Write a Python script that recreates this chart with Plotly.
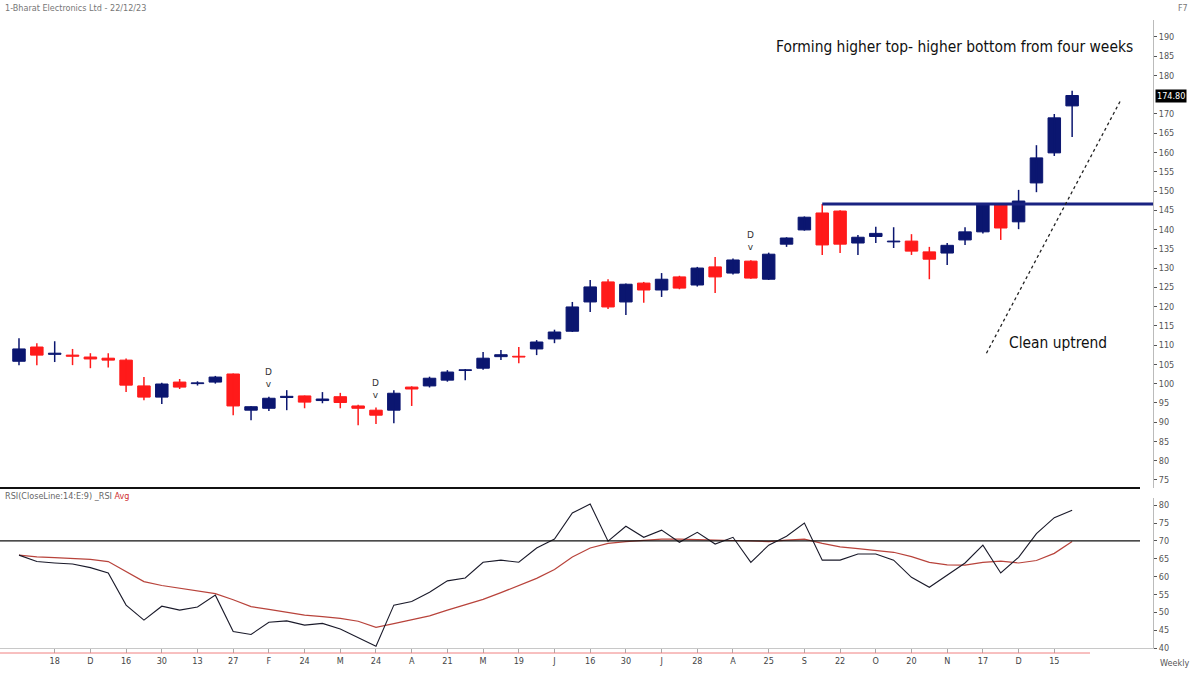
import plotly.graph_objects as go

# ---------------- data ----------------
open_ = [105.8, 109.5, 107.6, 107.4, 106.9, 106.6, 106.1, 99.4, 96.5, 100.4,
         100.0, 100.4, 102.5, 93.1, 93.6, 96.4, 96.8, 95.6, 96.6, 94.2,
         93.1, 93.1, 99.1, 99.4, 100.9, 103.4, 104.0, 107.0, 107.1, 109.0,
         111.6, 113.6, 121.2, 126.4, 121.2, 126.1, 124.3, 127.7, 125.6, 130.3,
         128.7, 131.8, 127.1, 136.2, 139.9, 144.3, 144.8, 136.5, 138.2, 136.8,
         137.0, 134.2, 133.9, 137.3, 139.4, 146.6, 142.0, 152.1, 159.9, 172.1]
high = [111.8, 110.5, 111.0, 109.0, 107.9, 107.9, 106.5, 101.7, 100.2, 101.2,
        100.6, 102.0, 102.6, 94.1, 96.6, 98.3, 96.9, 97.8, 97.6, 94.5,
        93.8, 98.3, 99.3, 101.8, 103.5, 103.8, 108.2, 108.7, 109.5, 111.3,
        114.0, 121.2, 126.9, 127.1, 126.0, 126.4, 128.7, 128.0, 130.3, 132.9,
        132.5, 132.0, 134.0, 138.0, 143.4, 146.6, 145.0, 138.6, 140.7, 140.6,
        138.8, 135.5, 136.5, 140.6, 146.8, 146.8, 150.3, 161.9, 170.0, 176.0]
low = [104.8, 104.8, 105.6, 104.8, 104.0, 104.2, 97.8, 95.7, 94.7, 98.6,
       99.5, 100.0, 91.8, 90.5, 92.9, 93.1, 93.6, 94.9, 93.6, 89.2,
       89.5, 89.7, 94.2, 99.0, 100.5, 100.9, 103.6, 106.1, 105.3, 107.4,
       110.5, 113.4, 118.6, 119.4, 117.8, 121.0, 122.5, 124.5, 125.2, 123.5,
       128.3, 127.2, 126.9, 135.5, 139.7, 133.4, 133.9, 133.4, 136.5, 135.2,
       133.4, 127.1, 130.8, 136.0, 139.0, 137.3, 140.1, 149.7, 159.1, 164.0]
close = [109.0, 107.4, 107.9, 107.1, 106.4, 106.1, 99.6, 96.5, 99.9, 99.1,
         100.2, 101.7, 94.2, 94.0, 96.2, 96.7, 95.2, 96.0, 95.1, 93.6,
         91.8, 97.5, 98.6, 101.4, 103.0, 103.6, 106.6, 107.5, 106.9, 110.8,
         113.4, 119.9, 125.1, 119.9, 125.8, 124.3, 127.1, 124.8, 130.0, 127.7,
         132.1, 127.4, 133.6, 137.8, 143.2, 136.0, 136.2, 138.0, 139.0, 137.0,
         134.4, 132.3, 135.9, 139.4, 146.6, 140.4, 147.4, 158.6, 169.0, 174.8]

rsi = [66.0, 64.2, 63.8, 63.5, 62.5, 61.0, 52.0, 47.8, 51.7, 50.6,
       51.5, 54.8, 44.6, 43.8, 47.2, 47.6, 46.4, 46.9, 45.3, 43.0,
       40.5, 52.0, 53.0, 55.6, 58.8, 59.6, 64.0, 64.6, 64.0, 68.0,
       70.5, 77.8, 80.3, 69.9, 74.1, 71.0, 73.0, 69.6, 72.4, 69.1,
       71.0, 64.0, 68.8, 71.3, 75.0, 64.6, 64.6, 66.3, 66.3, 64.6,
       59.8, 57.0, 60.4, 63.8, 68.8, 61.0, 65.4, 72.0, 76.5, 78.6]
rsi_avg = [66.0, 65.5, 65.3, 65.1, 64.8, 64.2, 61.5, 58.6, 57.5, 56.8,
           56.0, 55.2, 53.5, 51.6, 50.8, 50.0, 49.2, 48.8, 48.3, 47.5,
           45.8, 46.8, 47.8, 49.0, 50.6, 52.0, 53.6, 55.5, 57.5, 59.5,
           62.0, 65.5, 68.0, 69.3, 69.8, 70.2, 70.5, 70.5, 70.3, 70.2,
           70.1, 70.0, 69.8, 70.2, 70.5, 69.3, 68.3, 67.8, 67.4, 66.8,
           65.6, 64.0, 63.3, 63.2, 64.0, 64.3, 63.8, 64.5, 66.5, 69.8]

tick_idx = list(range(2, 60, 2))
tick_labels = ["18", "D", "16", "30", "13", "27", "F", "24", "M", "24",
               "A", "21", "M", "19", "J", "16", "30", "J", "28", "A",
               "25", "S", "22", "O", "20", "N", "17", "D", "15"]

price_ticks = list(range(75, 191, 5))
rsi_ticks = list(range(40, 81, 5))

resistance_level = 146.6
resistance_start = 45
trend_x = [54.2, 61.7]
trend_y = [107.9, 173.4]
d_marks = [14, 20, 41]
rsi_level = 70

# ---------------- figure ----------------
BLUE = "#0b1670"
RED = "#ff1a1a"
n = len(close)
xs = list(range(n))

fig = go.Figure()

for up, col in ((True, BLUE), (False, RED)):
    idx = [i for i in xs if (close[i] >= open_[i]) == up]
    wx, wy = [], []
    for i in idx:
        wx += [i, i, None]
        wy += [low[i], high[i], None]
    fig.add_trace(go.Scatter(x=wx, y=wy, mode="lines", line=dict(color=col, width=1.5),
                             hoverinfo="skip", showlegend=False, xaxis="x", yaxis="y"))
    fig.add_trace(go.Bar(x=idx, y=[abs(close[i] - open_[i]) for i in idx],
                         base=[min(open_[i], close[i]) for i in idx],
                         width=0.7, marker=dict(color=col, line=dict(color=col, width=1)),
                         hoverinfo="skip", showlegend=False, xaxis="x", yaxis="y"))

# resistance line from candle high
fig.add_trace(go.Scatter(x=[resistance_start, 63.6], y=[resistance_level, resistance_level],
                         mode="lines", line=dict(color="#1a2382", width=3),
                         hoverinfo="skip", showlegend=False, xaxis="x", yaxis="y"))
# trend line
fig.add_trace(go.Scatter(x=trend_x, y=trend_y, mode="lines",
                         line=dict(color="#222", width=1.3, dash="dot"),
                         hoverinfo="skip", showlegend=False, xaxis="x", yaxis="y"))

# RSI
fig.add_trace(go.Scatter(x=xs, y=rsi_avg, mode="lines", line=dict(color="#b8433b", width=1.2),
                         hoverinfo="skip", showlegend=False, xaxis="x", yaxis="y2"))
fig.add_trace(go.Scatter(x=xs, y=rsi, mode="lines", line=dict(color="#1a1a2a", width=1.1),
                         hoverinfo="skip", showlegend=False, xaxis="x", yaxis="y2"))

H = 675
t_m, b_m = 20, 27
plot_h = H - t_m - b_m


def py(pix):
    return (H - b_m - pix) / plot_h


W = 1198
r_m = 45
plot_w = W - r_m


def px(pix):
    return pix / plot_w


# the last-price box hides the tick label next to it
shown_price_ticks = [v for v in price_ticks if abs(v - close[-1]) > 2.5]

shapes = [
    dict(type="line", xref="paper", yref="paper", x0=0, x1=px(1140), y0=py(488), y1=py(488),
         line=dict(color="#111", width=2)),
    dict(type="line", xref="paper", yref="y2", x0=0, x1=px(1140), y0=rsi_level, y1=rsi_level,
         line=dict(color="#111", width=1.2)),
    dict(type="line", xref="paper", yref="paper", x0=0, x1=px(1090), y0=py(653), y1=py(653),
         line=dict(color="#f08080", width=1)),
]

annotations = [
    dict(xref="paper", yref="paper", x=px(3), y=py(8), xanchor="left", yanchor="middle",
         text="1-Bharat Electronics Ltd - 22/12/23", showarrow=False,
         font=dict(family="DejaVu Sans Condensed, Liberation Sans Narrow", size=9, color="#777")),
    dict(xref="paper", yref="paper", x=px(1183), y=py(8), xanchor="center", yanchor="middle",
         text="F7", showarrow=False, font=dict(family="DejaVu Sans", size=8, color="#777")),
    dict(xref="paper", yref="paper", x=px(954), y=py(47), xanchor="center", yanchor="middle",
         text="Forming higher top- higher bottom from four weeks", showarrow=False,
         font=dict(family="Liberation Sans Narrow, DejaVu Sans Condensed", size=15.4, color="#111")),
    dict(xref="paper", yref="paper", x=px(1058), y=py(343), xanchor="center", yanchor="middle",
         text="Clean uptrend", showarrow=False,
         font=dict(family="Liberation Sans Narrow, DejaVu Sans Condensed", size=15.4, color="#111")),
    dict(xref="paper", yref="paper", x=px(3), y=py(496), xanchor="left", yanchor="middle",
         text="RSI(CloseLine:14:E:9) _RSI <span style='color:#d03030'>Avg</span>", showarrow=False,
         font=dict(family="DejaVu Sans Condensed, Liberation Sans Narrow", size=9, color="#666")),
    dict(xref="paper", yref="y", x=1, y=close[-1], xanchor="left", yanchor="middle", xshift=2,
         text=f"{close[-1]:.2f}", showarrow=False, bgcolor="#000", borderpad=1,
         font=dict(family="DejaVu Sans Condensed", size=9, color="#fff")),
    dict(xref="paper", yref="paper", x=px(1174), y=py(663), xanchor="center", yanchor="middle",
         text="Weekly", showarrow=False,
         font=dict(family="DejaVu Sans Condensed", size=9, color="#555")),
]
for i in d_marks:
    annotations.append(dict(xref="x", yref="y", x=i, y=high[i], yshift=6, yanchor="bottom",
                            text="D<br>v", showarrow=False,
                            font=dict(family="DejaVu Sans", size=9, color="#333")))

fig.update_layout(
    width=W, height=H,
    margin=dict(l=0, r=r_m, t=t_m, b=b_m),
    paper_bgcolor="white", plot_bgcolor="white",
    barmode="overlay",
    showlegend=False,
    xaxis=dict(domain=[0, 1], anchor="y2", range=[-1.064, 63.53], tickmode="array",
               tickvals=tick_idx, ticktext=tick_labels, ticks="outside", ticklen=4,
               tickcolor="#aaa", showline=True, linecolor="#c8c8c8", showgrid=False,
               zeroline=False, tickfont=dict(family="DejaVu Sans Condensed", size=9, color="#444")),
    yaxis=dict(domain=[py(488), 1], range=[72.9, 194.4], side="right", anchor="x",
               tickmode="array", tickvals=shown_price_ticks, ticks="outside", ticklen=3,
               tickcolor="#555", showline=True, linecolor="#bbb", showgrid=False, zeroline=False,
               tickfont=dict(family="DejaVu Sans Condensed", size=9, color="#555")),
    yaxis2=dict(domain=[0, py(498)], range=[40, 82], side="right", anchor="x",
                tickmode="array", tickvals=rsi_ticks, ticks="outside", ticklen=3,
                tickcolor="#555", showline=True, linecolor="#bbb", showgrid=False, zeroline=False,
                tickfont=dict(family="DejaVu Sans Condensed", size=9, color="#555")),
    shapes=shapes,
    annotations=annotations,
)

fig.write_html("out.html")
